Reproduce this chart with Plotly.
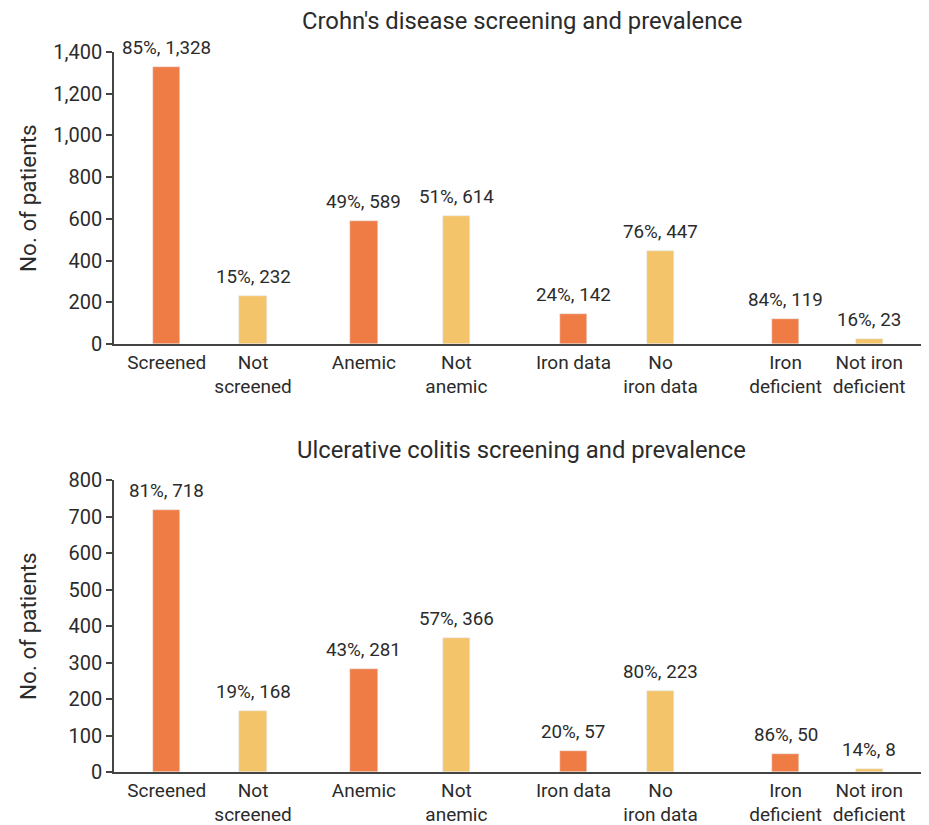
import plotly.graph_objects as go

categories = ["Screened", "Not<br>screened", "Anemic", "Not<br>anemic",
              "Iron data", "No<br>iron data", "Iron<br>deficient", "Not iron<br>deficient"]
cd_values = [1328, 232, 589, 614, 142, 447, 119, 23]
cd_pct = [85, 15, 49, 51, 24, 76, 84, 16]
uc_values = [718, 168, 281, 366, 57, 223, 50, 8]
uc_pct = [81, 19, 43, 57, 20, 80, 86, 14]
titles = ["Crohn's disease screening and prevalence", "Ulcerative colitis screening and prevalence"]
y_ticks_cd = [0, 200, 400, 600, 800, 1000, 1200, 1400]
y_ticks_uc = [0, 100, 200, 300, 400, 500, 600, 700, 800]

# layout positions of the bars along the x axis (grouped pairs)
xpos = [0, 0.98, 2.24, 3.29, 4.62, 5.61, 7.03, 7.98]
colors = ["#EF7C45", "#F4C46B"] * 4

OFF = 8  # page body margin
W, H = 929 - OFF, 825 - OFF
L = 114 - OFF
FONT = "Roboto"
TXT = "#2b2b2b"

fig = go.Figure()
fig.add_trace(go.Bar(x=xpos, y=cd_values, marker_color=colors, width=0.31,
                     xaxis="x", yaxis="y", showlegend=False, hoverinfo="y"))
fig.add_trace(go.Bar(x=xpos, y=uc_values, marker_color=colors, width=0.31,
                     xaxis="x2", yaxis="y2", showlegend=False, hoverinfo="y"))

annotations = []
for vals, pcts, xa, ya in [(cd_values, cd_pct, "x", "y"), (uc_values, uc_pct, "x2", "y2")]:
    for xp, v, p in zip(xpos, vals, pcts):
        annotations.append(dict(x=xp, y=v, xref=xa, yref=ya, text=f"{p}%, {v:,}",
                                showarrow=False, yanchor="bottom", yshift=6,
                                font=dict(size=18.8, color=TXT, family=FONT)))

def py(pix):
    return 1 - (pix - OFF) / H

def px(pix):
    return (pix - OFF - L) / (W - L)

annotations.append(dict(x=0.5, y=py(21), xref="paper", yref="paper", text=titles[0],
                        showarrow=False, yanchor="middle", font=dict(size=23.8, color=TXT, family=FONT)))
annotations.append(dict(x=0.5, y=py(450), xref="paper", yref="paper", text=titles[1],
                        showarrow=False, yanchor="middle", font=dict(size=23.8, color=TXT, family=FONT)))
for yc in [198, 626]:
    annotations.append(dict(x=px(28), y=py(yc), xref="paper", yref="paper", text="No. of patients",
                            textangle=-90, showarrow=False, xanchor="center", yanchor="middle",
                            font=dict(size=22.5, color=TXT, family=FONT)))

xaxis_common = dict(range=[-0.6, 8.66], tickvals=xpos, ticktext=categories, showgrid=False,
                    zeroline=False, showline=True, linecolor="#444", linewidth=1.5, ticks="",
                    tickfont=dict(size=19, color=TXT, family=FONT), fixedrange=True,
                    automargin=False)
yaxis_common = dict(showgrid=False, zeroline=False, showline=True, linecolor="#444", linewidth=1.5,
                    ticks="outside", ticklen=6, tickcolor="#444", tickwidth=1.5, tickformat=",d",
                    tickfont=dict(size=20, color=TXT, family=FONT), fixedrange=True,
                    automargin=False)

fig.update_layout(
    width=W, height=H, margin=dict(l=L, r=0, t=0, b=0),
    plot_bgcolor="white", paper_bgcolor="white", bargap=0,
    font=dict(family=FONT, color=TXT),
    xaxis=dict(**xaxis_common, anchor="y"),
    xaxis2=dict(**xaxis_common, anchor="y2"),
    yaxis=dict(**yaxis_common, domain=[py(344), py(52)], range=[0, 1400], tickvals=y_ticks_cd, anchor="x"),
    yaxis2=dict(**yaxis_common, domain=[py(772), py(480)], range=[0, 800], tickvals=y_ticks_uc, anchor="x2"),
    annotations=annotations,
)

fig.write_html("out.html")
